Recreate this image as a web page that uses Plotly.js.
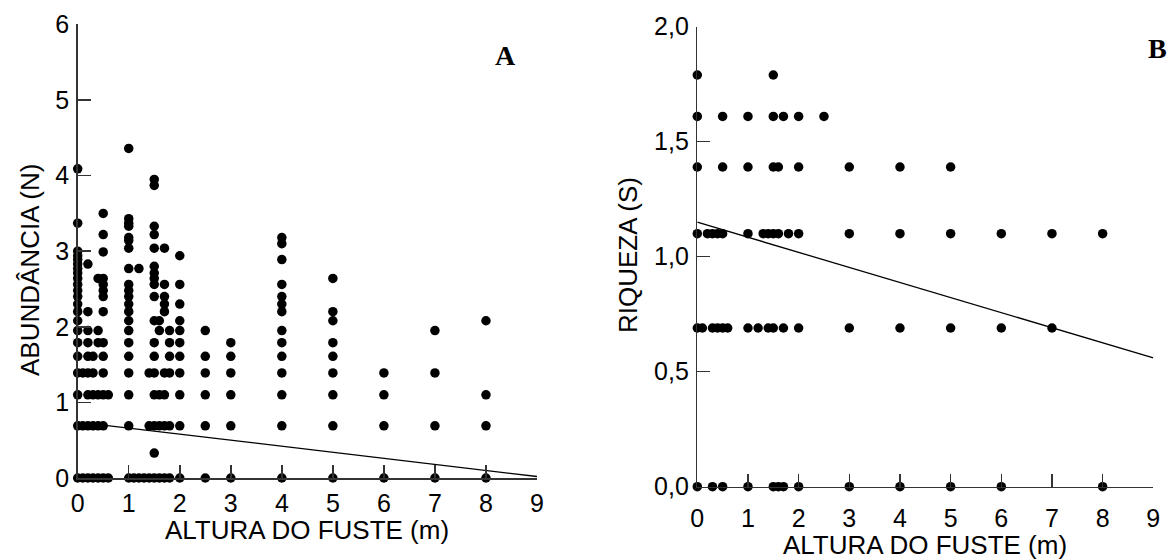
<!DOCTYPE html>
<html>
<head>
<meta charset="utf-8">
<script src="https://cdn.plot.ly/plotly-3.0.1.min.js"></script>
<style>html,body{margin:0;padding:0;background:#fff;}#chart{width:1170px;height:559px;}</style>
</head>
<body>
<div id="chart"></div>
<script>
// Panel A: ABUNDÂNCIA (N) vs ALTURA DO FUSTE (m)
const xA = [
  0,0,0,0,0,0,0,0,0,0,0,0,0,0,0,0,0,0,0,0,0,0,
  0.1,0.1,0.1,
  0.2,0.2,0.2,0.2,0.2,0.2,0.2,0.2,0.2,
  0.3,0.3,0.3,0.3,0.3,
  0.4,0.4,0.4,0.4,0.4,0.4,
  0.5,0.5,0.5,0.5,0.5,0.5,0.5,0.5,0.5,0.5,0.5,0.5,0.5,0.5,
  0.6,0.6,
  1,1,1,1,1,1,1,1,1,1,1,1,1,1,1,1,1,1,1,1,1,
  1.1,
  1.2,1.2,
  1.3,
  1.4,1.4,1.4,
  1.5,1.5,1.5,1.5,1.5,1.5,1.5,1.5,1.5,1.5,1.5,1.5,1.5,1.5,1.5,1.5,1.5,1.5,
  1.6,1.6,1.6,1.6,1.6,
  1.7,1.7,1.7,1.7,1.7,1.7,1.7,1.7,1.7,
  1.8,1.8,1.8,1.8,1.8,1.8,
  2,2,2,2,2,2,2,2,2,2,2,
  2.5,2.5,2.5,2.5,2.5,2.5,
  3,3,3,3,3,3,
  4,4,4,4,4,4,4,4,4,4,4,4,4,4,
  5,5,5,5,5,5,5,5,5,
  6,6,6,6,
  7,7,7,7,
  8,8,8,8
];
const yA = [
  4.09,3.37,3.00,2.94,2.89,2.83,2.77,2.71,2.64,2.56,2.48,2.40,2.30,2.20,2.08,1.95,1.79,1.61,1.39,1.10,0.69,0,
  1.39,0.69,0,
  2.83,2.20,1.95,1.79,1.61,1.39,1.10,0.69,0,
  1.61,1.39,1.10,0.69,0,
  2.64,1.95,1.79,1.10,0.69,0,
  3.50,3.22,2.99,2.64,2.56,2.48,2.40,2.20,1.79,1.61,1.39,1.10,0.69,0,
  1.10,0,
  4.36,3.43,3.37,3.33,3.18,3.14,3.04,2.77,2.56,2.48,2.40,2.30,2.20,2.08,1.95,1.79,1.61,1.39,1.10,0.69,0,
  0,
  2.77,0,
  0,
  1.39,0.69,0,
  3.95,3.87,3.33,3.22,3.04,2.80,2.71,2.64,2.56,2.40,2.08,1.79,1.61,1.39,1.10,0.69,0.33,0,
  2.08,1.95,1.10,0.69,0,
  3.04,2.56,2.40,2.30,2.20,1.39,1.10,0.69,0,
  1.95,1.79,1.61,1.39,0.69,0,
  2.94,2.56,2.30,2.08,1.95,1.79,1.61,1.39,1.10,0.69,0,
  1.95,1.61,1.39,1.10,0.69,0,
  1.79,1.61,1.39,1.10,0.69,0,
  3.18,3.10,2.89,2.56,2.40,2.30,2.20,1.95,1.79,1.61,1.39,1.10,0.69,0,
  2.64,2.20,2.08,1.79,1.61,1.39,1.10,0.69,0,
  1.39,1.10,0.69,0,
  1.95,1.39,0.69,0,
  2.08,1.10,0.69,0
];
const fitAx = [0, 9];
const fitAy = [0.74, 0.02];

// Panel B: RIQUEZA (S) vs ALTURA DO FUSTE (m)
const xB = [
  0,0,0,0,0,0,
  0.1,
  0.2,
  0.3,0.3,0.3,
  0.4,0.4,
  0.5,0.5,0.5,0.5,0.5,
  0.6,
  1,1,1,1,1,
  1.2,
  1.3,
  1.4,1.4,
  1.5,1.5,1.5,1.5,1.5,1.5,
  1.6,1.6,1.6,
  1.7,1.7,1.7,
  1.8,
  2,2,2,2,2,
  2.5,
  3,3,3,3,
  4,4,4,4,
  5,5,5,5,
  6,6,6,
  7,7,
  8,8
];
const yB = [
  1.79,1.61,1.39,1.10,0.69,0,
  0.69,
  1.10,
  1.10,0.69,0,
  1.10,0.69,
  1.61,1.39,1.10,0.69,0,
  0.69,
  1.61,1.39,1.10,0.69,0,
  0.69,
  1.10,
  1.10,0.69,
  1.79,1.61,1.39,1.10,0.69,0,
  1.39,1.10,0,
  1.61,0.69,0,
  1.10,
  1.61,1.39,1.10,0.69,0,
  1.61,
  1.39,1.10,0.69,0,
  1.39,1.10,0.69,0,
  1.39,1.10,0.69,0,
  1.10,0.69,0,
  1.10,0.69,
  1.10,0
];
const fitBx = [0, 9];
const fitBy = [1.15, 0.56];

const xTicks = [0,1,2,3,4,5,6,7,8,9];
const yTicksA = [0,1,2,3,4,5,6];
const yTicksB = [0,0.5,1,1.5,2];
const yTickTextB = ['0,0','0,5','1,0','1,5','2,0'];

const W = 1170, H = 559;
const px = v => v / W;
const py = v => 1 - v / H;

const FONT = 'Liberation Sans, Arial, sans-serif';
const TF = {family: FONT, size: 26, color: '#000'};
const TK = {family: FONT, size: 25, color: '#000'};

const mk = {color: '#000', size: 9.5};
const traces = [
  {x: xA, y: yA, type: 'scatter', mode: 'markers', marker: mk, xaxis: 'x', yaxis: 'y', cliponaxis: false},
  {x: fitAx, y: fitAy, type: 'scatter', mode: 'lines', line: {color: '#000', width: 1.3}, xaxis: 'x', yaxis: 'y', cliponaxis: false},
  {x: xB, y: yB, type: 'scatter', mode: 'markers', marker: mk, xaxis: 'x2', yaxis: 'y2', cliponaxis: false},
  {x: fitBx, y: fitBy, type: 'scatter', mode: 'lines', line: {color: '#000', width: 1.3}, xaxis: 'x2', yaxis: 'y2', cliponaxis: false}
];

const axBase = {
  showgrid: false, zeroline: false, showline: true, linecolor: '#333', linewidth: 1.5,
  ticks: 'inside', ticklen: 13, tickwidth: 1.5, tickcolor: '#333',
  tickfont: TK, fixedrange: true
};

const layout = {
  width: W, height: H,
  margin: {l: 0, r: 0, t: 0, b: 0},
  paper_bgcolor: '#fff', plot_bgcolor: 'rgba(0,0,0,0)',
  showlegend: false,
  xaxis: Object.assign({}, axBase, {domain: [px(77.7), px(537)], range: [0, 9], tickvals: xTicks, anchor: 'y', ticklabelstandoff: 2}),
  yaxis: Object.assign({}, axBase, {domain: [py(478), py(24.4)], range: [0, 6], tickvals: yTicksA, anchor: 'x', ticklabelstandoff: 2}),
  xaxis2: Object.assign({}, axBase, {domain: [px(697.3), px(1153.3)], range: [0, 9], tickvals: xTicks, anchor: 'y2', ticklabelstandoff: 9}),
  yaxis2: Object.assign({}, axBase, {domain: [py(486.7), py(26.7)], range: [0, 2], tickvals: yTicksB, ticktext: yTickTextB, anchor: 'x2', ticklabelstandoff: 2}),
  annotations: [
    {text: 'ALTURA DO FUSTE (m)', xref: 'paper', yref: 'paper', x: px(307), y: py(530), showarrow: false, font: TF, xanchor: 'center', yanchor: 'middle'},
    {text: 'ABUNDÂNCIA (N)', xref: 'paper', yref: 'paper', x: px(30), y: py(270), showarrow: false, font: TF, textangle: -90, xanchor: 'center', yanchor: 'middle'},
    {text: 'ALTURA DO FUSTE (m)', xref: 'paper', yref: 'paper', x: px(925), y: py(545), showarrow: false, font: TF, xanchor: 'center', yanchor: 'middle'},
    {text: 'RIQUEZA (S)', xref: 'paper', yref: 'paper', x: px(628), y: py(255), showarrow: false, font: TF, textangle: -90, xanchor: 'center', yanchor: 'middle'},
    {text: '<b>A</b>', xref: 'paper', yref: 'paper', x: px(505), y: py(56), showarrow: false, font: {family: 'Liberation Serif, Times New Roman, serif', size: 28, color: '#000'}, xanchor: 'center', yanchor: 'middle'},
    {text: '<b>B</b>', xref: 'paper', yref: 'paper', x: px(1157), y: py(48), showarrow: false, font: {family: 'Liberation Serif, Times New Roman, serif', size: 28, color: '#000'}, xanchor: 'center', yanchor: 'middle'}
  ]
};

Plotly.newPlot('chart', traces, layout, {displayModeBar: false, staticPlot: true});
</script>
</body>
</html>
